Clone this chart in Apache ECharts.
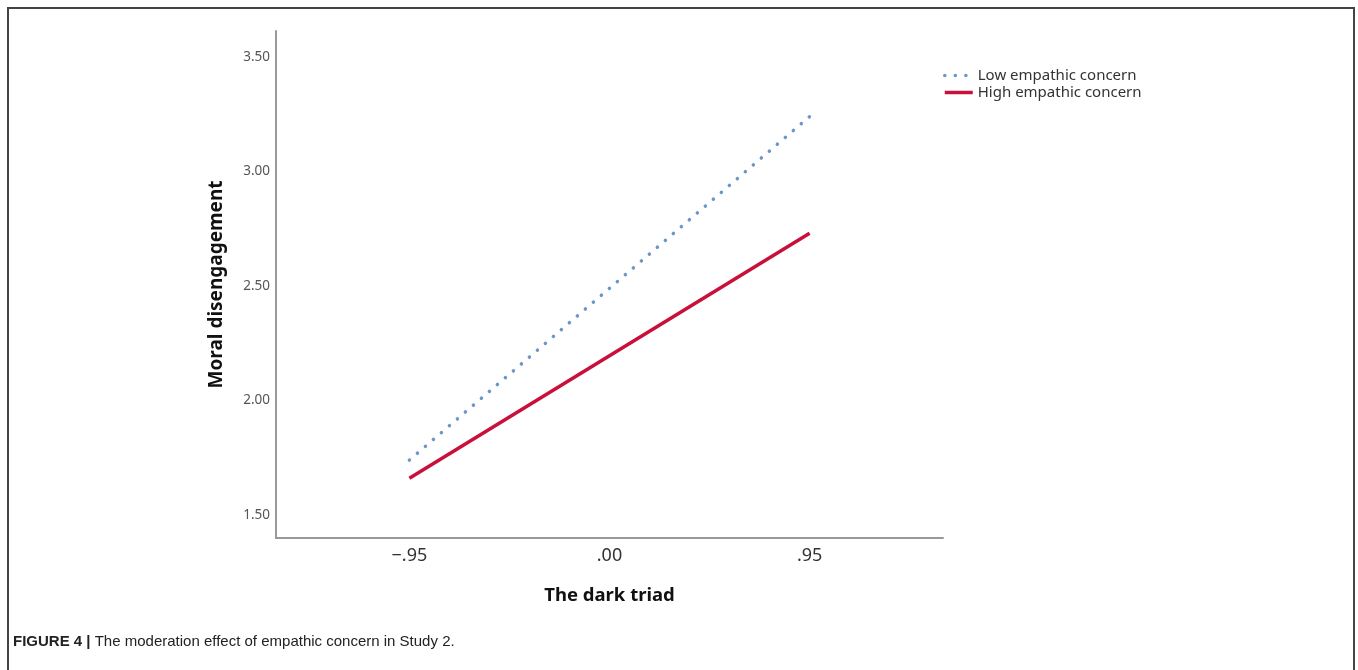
<!DOCTYPE html>
<html>
<head>
<meta charset="utf-8">
<script src="https://cdn.jsdelivr.net/npm/echarts@6/dist/echarts.min.js"></script>
<style>
  html, body { margin: 0; padding: 0; background: #fff; }
  #chart { width: 1358px; height: 670px; }
</style>
</head>
<body>
<div id="chart"></div>
<script>
// values
const darkTriad = [-0.95, 0.95]
const lowEmpathy = [1.74, 3.24]
const highEmpathy = [1.66, 2.73]
const yTicks = [1.5, 2.0, 2.5, 3.0, 3.5]
const xTicks = [-0.95, 0, 0.95]
const seriesNames = ['Low empathic concern', 'High empathic concern']

const chart = echarts.init(document.getElementById('chart'))

const pairs = (xs, ys) => xs.map((x, i) => [x, ys[i]])

const fmtX = (v) => {
  const s = Math.abs(v).toFixed(2).replace(/^0/, '')
  return v < 0 ? '\u2212' + s : s
}

const chartFont = 'Noto Sans'

chart.setOption({
  backgroundColor: '#fff',
  animation: false,
  grid: { left: 276, top: 31, right: 415, bottom: 132 },
  legend: {
    orient: 'vertical',
    left: 938,
    top: 63,
    itemWidth: 28,
    itemHeight: 10,
    itemGap: 2,
    data: seriesNames,
    itemStyle: { opacity: 0 },
    lineStyle: { width: 3.5 },
    textStyle: { fontFamily: chartFont, fontSize: 15, color: '#333' }
  },
  xAxis: {
    type: 'value',
    min: -1.5833,
    max: 1.5833,
    name: 'The dark triad',
    nameLocation: 'middle',
    nameGap: 48,
    nameTextStyle: { fontFamily: chartFont, fontSize: 18.5, fontWeight: 'bold', color: '#111' },
    axisLine: { lineStyle: { color: '#999', width: 2 } },
    axisTick: { show: false },
    splitLine: { show: false },
    axisLabel: {
      customValues: xTicks,
      formatter: fmtX,
      margin: 9,
      fontFamily: chartFont,
      fontSize: 18,
      color: '#333'
    }
  },
  yAxis: {
    type: 'value',
    min: 1.3996,
    max: 3.6135,
    name: 'Moral disengagement',
    nameLocation: 'middle',
    nameGap: 50,
    nameTextStyle: { fontFamily: chartFont, fontSize: 19, fontWeight: 'bold', color: '#111' },
    axisLine: { show: true, onZero: false, lineStyle: { color: '#999', width: 2 } },
    axisTick: { show: false },
    splitLine: { show: false },
    axisLabel: {
      customValues: yTicks,
      formatter: (v) => v.toFixed(2),
      margin: 6,
      fontFamily: chartFont,
      fontSize: 13.5,
      color: '#555'
    }
  },
  series: [
    {
      name: seriesNames[0],
      type: 'line',
      data: pairs(darkTriad, lowEmpathy),
      symbol: 'none',
      color: '#6b97c6',
      lineStyle: { width: 3.5, type: [0.1, 10.44], cap: 'round', color: '#6b97c6' }
    },
    {
      name: seriesNames[1],
      type: 'line',
      data: pairs(darkTriad, highEmpathy),
      symbol: 'none',
      color: '#c8103a',
      lineStyle: { width: 3.5, color: '#c8103a' }
    }
  ],
  graphic: [
    {
      type: 'rect',
      shape: { x: 8, y: 8, width: 1346, height: 700 },
      style: { fill: 'none', stroke: '#444', lineWidth: 2 },
      silent: true
    },
    {
      type: 'text',
      left: 13,
      top: 634,
      style: {
        text: '{b|FIGURE 4 |} The moderation effect of empathic concern in Study 2.',
        fontFamily: 'Liberation Sans',
        fontSize: 15,
        fill: '#222',
        rich: { b: { fontFamily: 'Liberation Sans', fontSize: 15, fontWeight: 'bold', fill: '#222' } }
      }
    }
  ]
})
</script>
</body>
</html>
